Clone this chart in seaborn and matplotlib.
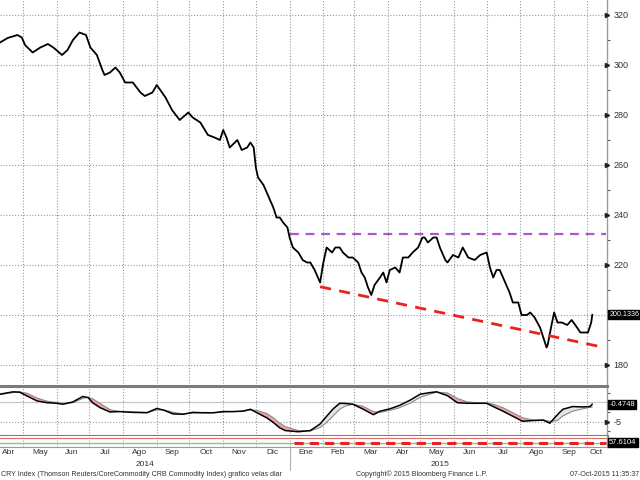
import matplotlib
matplotlib.use("Agg")
import matplotlib.pyplot as plt
from matplotlib.transforms import blended_transform_factory
import seaborn as sns
import pandas as pd

# ---------------- data ----------------
START = "2014-04-10"
X_END_DAYS = 557.5

price_days = [0, 7, 16, 20, 23, 30, 37, 44, 49, 57,
              62, 67, 73, 79, 83, 89, 94, 96, 101, 106,
              110, 115, 122, 129, 133, 140, 144, 152, 158, 165,
              173, 177, 184, 191, 197, 202, 205, 208, 211, 218,
              222, 227, 230, 233, 235, 237, 242, 245, 248, 251,
              254, 257, 260, 264, 266, 269, 274, 278, 282, 285,
              289, 294, 297, 300, 305, 308, 312, 315, 320, 324,
              329, 332, 335, 338, 341, 344, 349, 352, 355, 358,
              363, 367, 370, 375, 379, 384, 388, 390, 393, 398,
              401, 404, 409, 411, 416, 421, 425, 430, 436, 441,
              447, 450, 453, 456, 459, 464, 468, 471, 476, 479,
              484, 487, 491, 496, 499, 502, 503, 507, 509, 512,
              516, 521, 525, 530, 533, 537, 540, 543, 544]
price_vals = [309, 310.8, 312, 311, 308, 305, 307, 308.4, 307, 304,
              306, 310, 313, 312, 307, 304, 298, 296, 297, 299,
              297, 293, 293, 289, 287.6, 289, 292, 287, 282, 278,
              281, 279, 277, 272, 271, 270, 274, 271, 267, 270,
              266, 267, 269, 267, 259, 255, 252, 249, 246, 243,
              239, 239, 237, 235, 231, 227, 225, 222, 221, 221,
              218, 213, 221, 227, 225, 227, 227, 225, 223, 223,
              221, 217, 215, 211, 208, 212, 215, 217, 213, 218,
              219, 217, 223, 223, 225, 227, 231, 231, 229, 231,
              231, 227, 222, 221, 224, 223, 227, 223, 222, 224,
              225, 219, 215, 218, 218, 213, 209, 205, 205, 200,
              200, 201, 199, 195, 191, 187, 188, 197, 201, 197,
              197, 196, 198, 195, 193, 193, 193, 197, 200.1336]

osc_days = [0, 12, 18, 25, 34, 43, 52, 58, 67, 76,
            81, 85, 92, 101, 110, 122, 135, 144, 150, 159,
            168, 177, 186, 196, 205, 214, 223, 230, 236, 245,
            251, 257, 262, 274, 285, 294, 300, 306, 312, 317,
            324, 333, 343, 349, 358, 367, 377, 386, 395, 401,
            411, 420, 429, 441, 447, 453, 462, 471, 480, 490,
            499, 505, 512, 517, 526, 535, 542, 544]
osc_main = [2.1, 2.7, 2.6, 1.6, 0.35, -0.1, -0.26, -0.5, 0.1, 1.5,
            1.2, -0.1, -1.4, -2.5, -2.4, -2.6, -2.7, -1.6, -2.0, -3.0,
            -3.1, -2.6, -2.7, -2.7, -2.4, -2.4, -2.3, -1.8, -2.7, -4.0,
            -5.2, -6.6, -7.3, -7.6, -7.3, -5.6, -3.6, -1.7, -0.26, -0.3,
            -0.5, -1.7, -3.2, -2.3, -1.7, -0.8, 0.6, 2.1, 2.5, 2.7,
            1.7, -0.1, -0.26, -0.26, -0.26, -1.1, -2.3, -3.6, -4.9, -4.7,
            -4.6, -5.4, -3.2, -1.8, -1.1, -1.2, -1.1, -0.4748]
osc_signal = [2.0, 2.5, 2.7, 2.3, 1.1, 0.3, -0.1, -0.3, -0.1, 1.0,
              1.3, 0.9, -0.3, -1.9, -2.4, -2.5, -2.6, -2.0, -1.9, -2.6,
              -3.0, -2.8, -2.7, -2.7, -2.5, -2.4, -2.3, -2.0, -2.1, -2.9,
              -4.0, -5.4, -6.3, -7.3, -7.4, -6.5, -5.2, -3.5, -1.8, -1.0,
              -0.5, -1.0, -2.4, -2.6, -2.1, -1.4, -0.2, 1.3, 2.1, 2.6,
              2.4, 1.0, 0.1, -0.2, -0.2, -0.5, -1.4, -2.7, -4.0, -4.6,
              -4.6, -4.9, -4.7, -3.5, -2.3, -1.7, -1.3, -1.2]

resist_dates = ["2015-01-01", "2015-10-19"]
resist_vals = [232.5, 232.5]
support_dates = ["2015-01-29", "2015-10-17"]
support_vals = [211.3, 187.0]

price_ticks = [180, 200, 220, 240, 260, 280, 300, 320]
price_tick_labels = ["180", "", "220", "240", "260", "280", "300", "320"]
price_minor = [190, 210, 230, 250, 270, 290, 310]
osc_ticks = [2.5, 0, -2.5, -5, -7.5]

month_labels = ["Abr", "May", "Jun", "Jul", "Ago", "Sep", "Oct", "Nov", "Dic",
                "Ene", "Feb", "Mar", "Abr", "May", "Jun", "Jul", "Ago", "Sep", "Oct"]
month_label_dates = ["2014-04-18", "2014-05-17", "2014-06-15", "2014-07-16", "2014-08-16",
                     "2014-09-15", "2014-10-16", "2014-11-15", "2014-12-16", "2015-01-16",
                     "2015-02-14", "2015-03-16", "2015-04-15", "2015-05-16", "2015-06-15",
                     "2015-07-16", "2015-08-16", "2015-09-15", "2015-10-10"]
year_labels = ["2014", "2015"]
year_label_dates = ["2014-08-21", "2015-05-19"]
year_split = "2015-01-01"

last_price = "200.1336"
last_osc = "-0.4748"
last_mini = "57.6104"

# ---------------- frames ----------------
t0 = pd.Timestamp(START)
price_df = pd.DataFrame({"date": t0 + pd.to_timedelta(price_days, unit="D"),
                         "price": price_vals})
osc_df = pd.DataFrame({"date": t0 + pd.to_timedelta(osc_days, unit="D"),
                       "main": osc_main, "signal": osc_signal})
xmin, xmax = t0, t0 + pd.Timedelta(days=X_END_DAYS)

sns.set_theme(style="white")
plt.rcParams["font.family"] = ["Liberation Sans", "DejaVu Sans"]

fig = plt.figure(figsize=(6.4, 4.8), dpi=100)
fig.patch.set_facecolor("white")
W = 607 / 640
ax = fig.add_axes([0, 1 - 386 / 480, W, 386 / 480])
axi = fig.add_axes([0, 1 - 436 / 480, W, 50 / 480])
axm = fig.add_axes([0, 1 - 447 / 480, W, 11 / 480])

grid_kw = dict(color="#9a9a9a", lw=0.8, ls=(0, (1, 1.6)))
month_starts = pd.date_range("2014-05-01", "2015-10-01", freq="MS")
TXT = "#333333"

for a in (ax, axi, axm):
    a.set_xlim(xmin, xmax)
    a.set_facecolor("white")
    for d in month_starts:
        a.axvline(d, zorder=0, **grid_kw)
    a.spines["left"].set_visible(False)
    a.spines["top"].set_visible(False)
    a.spines["right"].set_color("#9a9a9a")
    a.spines["right"].set_linewidth(1.0)


def value_box(a, y, text, size=5.4):
    tr = blended_transform_factory(a.transAxes, a.transData)
    a.annotate(text, xy=(1.0, y), xycoords=tr, xytext=(1.6, 0),
               textcoords="offset points", ha="left", va="center",
               color="white", fontsize=size, annotation_clip=False, zorder=6,
               bbox=dict(boxstyle="square,pad=0.14", fc="black", ec="black"))


def arrows(a, vals):
    tr = blended_transform_factory(a.transAxes, a.transData)
    a.plot([1.0] * len(vals), vals, ls="none", marker=">", ms=3,
           color="#222222", transform=tr, clip_on=False, zorder=5)


# ---------------- main price panel ----------------
sns.lineplot(data=price_df, x="date", y="price", ax=ax, color="black",
             lw=1.3, estimator=None, zorder=3)
ax.set_ylim(171.6, 326)
for v in price_ticks:
    ax.axhline(v, zorder=0, **grid_kw)
ax.plot(pd.to_datetime(resist_dates), resist_vals, color="#a65cc4", lw=1.6,
        ls=(0, (4, 3)), zorder=4)
ax.plot(pd.to_datetime(support_dates), support_vals, color="#e8231f", lw=2.0,
        ls=(0, (4, 3)), zorder=4)
ax.spines["bottom"].set_visible(False)
ax.set_xticks([])
ax.set_xlabel("")
ax.set_ylabel("")
ax.yaxis.tick_right()
ax.set_yticks(price_ticks)
ax.set_yticklabels(price_tick_labels)
ax.set_yticks(price_minor, minor=True)
ax.tick_params(axis="y", which="major", length=0, pad=4.5, labelsize=6.5,
               labelcolor=TXT)
ax.tick_params(axis="y", which="minor", direction="out", length=2.5,
               width=0.8, color="#555555")
arrows(ax, [v for v in price_ticks if v != 200])
value_box(ax, 200.1336, last_price, size=5.1)

# ---------------- oscillator panel ----------------
sns.lineplot(data=osc_df, x="date", y="signal", ax=axi, color="#8a8a8a",
             lw=0.8, estimator=None, zorder=3)
sns.lineplot(data=osc_df, x="date", y="main", ax=axi, color="black",
             lw=1.1, estimator=None, zorder=4)
m = osc_df["main"].to_numpy()
s = osc_df["signal"].to_numpy()
axi.fill_between(osc_df["date"], m, s, where=m < s, interpolate=True,
                 color="#f2a3a6", lw=0, zorder=2)
axi.fill_between(osc_df["date"], m, s, where=m >= s, interpolate=True,
                 color="#e4e4e4", lw=0, zorder=2)
axi.axhline(0, color="#c8c8c8", lw=0.9, zorder=1)
axi.axhline(-5, zorder=1, **grid_kw)
axi.set_ylim(-8.7, 4.2)
axi.set_xticks([])
axi.set_xlabel("")
axi.set_ylabel("")
for side in ("top", "bottom"):
    axi.spines[side].set_visible(True)
    axi.spines[side].set_color("#7a7a7a")
    axi.spines[side].set_linewidth(2.2)
axi.yaxis.tick_right()
axi.set_yticks([-5])
axi.set_yticklabels(["-5"])
axi.set_yticks(osc_ticks, minor=True)
axi.tick_params(axis="y", which="major", length=0, pad=4.5, labelsize=6.5,
                labelcolor=TXT)
axi.tick_params(axis="y", which="minor", direction="out", length=2.5,
                width=0.8, color="#555555")
arrows(axi, [-5])
value_box(axi, -0.4748, last_osc)

# ---------------- small bottom panel ----------------
axm.set_ylim(0, 100)
axm.axhline(82, color="#e46a6a", lw=0.8)
axm.axhline(35, color="#7ccf6a", lw=1.0)
axm.plot(pd.to_datetime(["2015-01-05", "2015-10-19"]), [35, 35],
         color="#e8231f", lw=2.2, ls=(0, (3, 2)))
axm.set_yticks([])
axm.spines["bottom"].set_color("#9a9a9a")
axm.spines["bottom"].set_linewidth(0.8)
value_box(axm, 45, last_mini)

axm.set_xticks(month_starts)
axm.set_xticklabels([])
axm.set_xticks(pd.to_datetime(month_label_dates), minor=True)
axm.set_xticklabels(month_labels, minor=True)
axm.tick_params(axis="x", which="major", direction="out", length=3,
                width=0.7, color="#666666")
axm.tick_params(axis="x", which="minor", length=0, pad=1.2, labelsize=6,
                labelcolor=TXT)
axm.set_xlabel("")

trm = blended_transform_factory(axm.transData, axm.transAxes)
for lab, d in zip(year_labels, pd.to_datetime(year_label_dates)):
    axm.text(d, -1.55, lab, transform=trm, ha="center", va="center",
             fontsize=6, color=TXT, clip_on=False)
axm.plot([pd.Timestamp(year_split)] * 2, [-0.1, -2.1], color="#b0b0b0",
         lw=0.8, transform=trm, clip_on=False)

# ---------------- footer texts ----------------
fy = 1 - 474 / 480
fig.text(0.002, fy, "CRY Index (Thomson Reuters/CoreCommodity CRB Commodity Index) grafico velas diar",
         ha="left", va="center", fontsize=5.1, color=TXT)
fig.text(422 / 640, fy, "Copyright\u00a9 2015 Bloomberg Finance L.P.",
         ha="center", va="center", fontsize=5.1, color=TXT)
fig.text(0.998, fy, "07-Oct-2015 11:35:37", ha="right", va="center",
         fontsize=5.1, color=TXT)

fig.savefig("out.png", dpi=100, facecolor="white")
